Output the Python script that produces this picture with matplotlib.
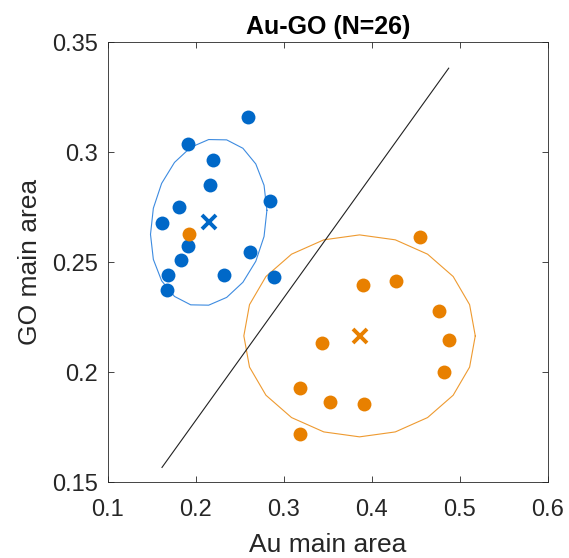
import numpy as np
import matplotlib
matplotlib.use("Agg")
import matplotlib.pyplot as plt

plt.rcParams['font.family'] = ['Liberation Sans', 'DejaVu Sans']

# Group 1 (blue)
blue_x = [0.259, 0.1916, 0.2197, 0.2159, 0.2844, 0.1807, 0.1617, 0.1909,
          0.2617, 0.1837, 0.1689, 0.2322, 0.2886, 0.1678]
blue_y = [0.3159, 0.3036, 0.2966, 0.2851, 0.2780, 0.2753, 0.2677, 0.2573,
          0.2545, 0.2510, 0.2442, 0.2441, 0.2435, 0.2374]
# Group 2 (orange)
orange_x = [0.4552, 0.4273, 0.3898, 0.4761, 0.4875, 0.3432, 0.4822, 0.3182,
            0.3523, 0.3909, 0.3189, 0.1928]
orange_y = [0.2615, 0.2416, 0.2395, 0.2277, 0.2147, 0.2133, 0.2003, 0.1929,
            0.1865, 0.1857, 0.1721, 0.2629]

# Ellipse shape matrices (data units): [[sxx, sxy], [sxy, syy]]
blue_shape = [[0.004374, 0.000362], [0.000362, 0.001447]]
orange_shape = [[0.1315**2, 0.0], [0.0, 0.0459**2]]

# Decision boundary y = slope*x + intercept
boundary_slope = 0.557
boundary_intercept = 0.0667

title = "Au-GO (N=26)"
xlabel = "Au main area"
ylabel = "GO main area"
xticks = [0.1, 0.2, 0.3, 0.4, 0.5, 0.6]
yticks = [0.15, 0.2, 0.25, 0.3, 0.35]

BLUE = '#0068C8'
ORANGE = '#E88000'
BLUE_L = '#3D8BE0'
ORANGE_L = '#EE9A30'
TXT = '#262626'

fig = plt.figure(figsize=(5.69, 5.58), dpi=100)
ax = fig.add_axes([107.7/569, 1 - 482.3/558, 440/569, 440/558])

def ellipse(center, shape, n=20):
    L = np.linalg.cholesky(np.array(shape))
    t = np.linspace(0, 2*np.pi, n + 1)
    pts = L @ np.vstack([np.cos(t), np.sin(t)])
    return center[0] + pts[0], center[1] + pts[1]

bc = (np.mean(blue_x), np.mean(blue_y))
oc = (np.mean(orange_x), np.mean(orange_y))

ex, ey = ellipse(bc, blue_shape)
ax.plot(ex, ey, color=BLUE_L, lw=0.8, zorder=2)
ex, ey = ellipse(oc, orange_shape)
ax.plot(ex, ey, color=ORANGE_L, lw=0.8, zorder=2)

allx = np.array(blue_x + orange_x)
lx = np.array([allx.min(), allx.max()])
ax.plot(lx, boundary_slope*lx + boundary_intercept, color='#222222', lw=0.8, zorder=2)

ax.plot(blue_x, blue_y, 'o', color=BLUE, ms=10, mec='none', zorder=3)
ax.plot(orange_x, orange_y, 'o', color=ORANGE, ms=10, mec='none', zorder=3)
ax.plot([bc[0]], [bc[1]], 'x', color=BLUE, ms=10, mew=2.8, zorder=4)
ax.plot([oc[0]], [oc[1]], 'x', color=ORANGE, ms=10, mew=2.8, zorder=4)

ax.set_xlim(0.1, 0.6)
ax.set_ylim(0.15, 0.35)
ax.set_xticks(xticks)
ax.set_yticks(yticks)
ax.set_xticklabels([f"{v:g}" for v in xticks])
ax.set_yticklabels([f"{v:g}" for v in yticks])
ax.tick_params(direction='in', top=True, right=True, length=4, width=0.6,
               color='#262626', labelsize=17, labelcolor=TXT)
ax.tick_params(axis='x', pad=12)
ax.tick_params(axis='y', pad=7)
for s in ax.spines.values():
    s.set_color('#262626')
    s.set_linewidth(0.6)

ax.set_title(title, fontsize=18, fontweight='bold', color='black', pad=6)
ax.set_xlabel(xlabel, fontsize=19, color=TXT, labelpad=9)
ax.set_ylabel(ylabel, fontsize=19, color=TXT, labelpad=7)

fig.savefig('out.png', dpi=100)
